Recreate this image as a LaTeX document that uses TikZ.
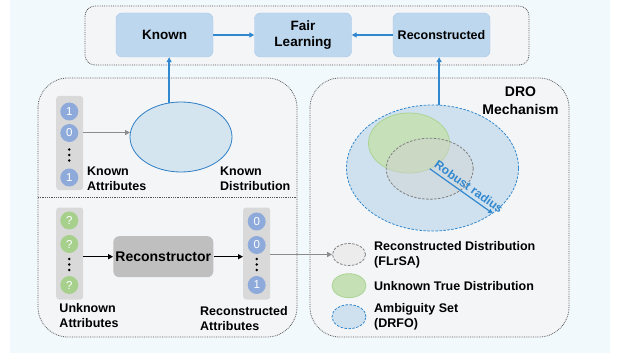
\documentclass[tikz,border=0pt]{standalone}
\usepackage{fontspec}
\setmainfont{Liberation Sans}
\usetikzlibrary{shapes.geometric,arrows.meta}
\definecolor{pagebg}{HTML}{F2F9FD}
\definecolor{panelfill}{HTML}{F4F5F7}
\definecolor{panelline}{HTML}{555555}
\definecolor{stagefill}{HTML}{BDD7EE}
\definecolor{stageline}{HTML}{A6C8E8}
\definecolor{flowblue}{HTML}{3288CF}
\definecolor{kdfill}{HTML}{D5E5F0}
\definecolor{kdline}{HTML}{2F7EC5}
\definecolor{ambfill}{HTML}{CFE1EE}
\definecolor{greenfill}{HTML}{C6E0B5}
\definecolor{greenline}{HTML}{ABD494}
\definecolor{bitblue}{HTML}{8EAADB}
\definecolor{bitgreen}{HTML}{A8D08D}
\definecolor{colgray}{HTML}{D9D9D9}
\definecolor{recgray}{HTML}{BFBFBF}
\definecolor{arrowgray}{HTML}{8C8C8C}
\begin{document}
\begin{tikzpicture}[x=1pt,y=-1pt]
  \tikzstyle{every node}+=[inner sep=0pt]
  \tikzstyle{panel}=[draw=panelline, densely dotted, fill=panelfill, line width=0.8pt]
  \tikzstyle{stage}=[draw=stageline, fill=stagefill, rounded corners=6pt, minimum width=97pt, minimum height=44pt, font=\bfseries\fontsize{13.5}{16.5}\selectfont, align=center]
  \tikzstyle{flow}=[draw=flowblue, line width=1.6pt, -{Triangle[length=5pt,width=5pt]}]
  \tikzstyle{push}=[draw=black, line width=1.5pt, -{Triangle[length=5pt,width=5pt]}]
  \tikzstyle{grayflow}=[draw=arrowgray, line width=1.4pt, -{Triangle[length=5pt,width=5pt]}]
  \tikzstyle{bit}=[circle, minimum size=18pt, text=white, font=\fontsize{11.5}{11.5}\selectfont]
  \tikzstyle{bitcol}=[fill=colgray, rounded corners=3pt, minimum width=27pt, minimum height=92pt]
  \tikzstyle{note}=[font=\bfseries\fontsize{12.5}{15}\selectfont, align=left, anchor=west]
  \tikzstyle{dashline}=[dash pattern=on 2.5pt off 1.5pt, line width=0.8pt]
  \useasboundingbox (0,0) rectangle (622,353);
  \fill [white] (0,0) rectangle (622,353);
  \fill [pagebg] (10,0) rectangle (610,353);
  % panels
  \draw [panel, rounded corners=10pt] (85,6) rectangle (529,65);
  \draw [panel, rounded corners=30pt] (38,78) rectangle (297,337);
  \draw [panel] (38,197) -- (297,197);
  \draw [panel, rounded corners=30pt] (310,78) rectangle (569,337);
  % top row
  \node [stage] (known) at (164.5,35) {Known};
  \node [stage] (fair) at (303,35) {Fair\\Learning};
  \node [stage, font=\bfseries\fontsize{12.5}{15}\selectfont] (rec) at (441.5,35) {Reconstructed};
  \draw [flow] (known) -- (fair);
  \draw [flow] (rec) -- (fair);
  % known part
  \node [ellipse, draw=kdline, fill=kdfill, line width=0.8pt, minimum width=102pt, minimum height=70pt] (kdist) at (181,137) {};
  \node [bitcol, minimum height=94pt] (kcol) at (69.7,143) {};
  \node [bit, fill=bitblue] (k1) at (69.3,111.5) {1};
  \node [bit, fill=bitblue] (k2) at (69.3,133) {0};
  \node [bit, fill=bitblue] (k3) at (69.3,177.5) {1};
  \foreach \y in {149.5,155,160.5}
    \fill (69.3,\y) circle (1.4);
  \draw [grayflow] (kcol.east |- kdist.175) -- (kdist.175);
  \draw [flow] (kdist.109) -- (kdist.109 |- known.south);
  \node [note] (kattr) at (87,178.5) {Known\\Attributes};
  \node [note] (kdlbl) at (220,178.5) {Known\\Distribution};
  % reconstruction part
  \node [bitcol] (ucol) at (69.7,253.5) {};
  \node [bit, fill=bitgreen] (u1) at (69.3,220.5) {?};
  \node [bit, fill=bitgreen] (u2) at (69.3,244) {?};
  \node [bit, fill=bitgreen] (u3) at (69.3,285) {?};
  \foreach \y in {259,264.5,270}
    \fill (69.3,\y) circle (1.4);
  \node [fill=recgray, rounded corners=6pt, minimum width=100pt, minimum height=41pt, font=\bfseries\fontsize{14}{14}\selectfont] (recon) at (163.3,256.7) {Reconstructor};
  \node [bitcol] (rcol) at (256.7,253.5) {};
  \node [bit, fill=bitblue] (r1) at (256.7,221.5) {0};
  \node [bit, fill=bitblue] (r2) at (256.7,245) {0};
  \node [bit, fill=bitblue] (r3) at (256.7,285) {1};
  \foreach \y in {259,264.5,270}
    \fill (256.7,\y) circle (1.4);
  \draw [push] (ucol.east |- recon) -- (recon.west);
  \draw [push] (recon.east) -- (recon -| rcol.west);
  \node [note] (uattr) at (59.3,315.5) {Unknown\\Attributes};
  \node [note] (rattr) at (200,319) {Reconstructed\\Attributes};
  % DRO part
  \node [font=\bfseries\fontsize{14}{17.5}\selectfont, align=center] (drolbl) at (520.5,100.5) {DRO\\Mechanism};
  \node [ellipse, draw=flowblue, fill=ambfill, dashline, minimum width=172pt, minimum height=126pt] (amb) at (432.5,168) {};
  \node [ellipse, draw=greenline, fill=greenfill, fill opacity=0.9, line width=0.8pt, minimum width=81pt, minimum height=60pt] (true) at (409,143) {};
  \node [ellipse, draw=gray, fill=gray!35, fill opacity=0.45, dashline, minimum width=87pt, minimum height=61pt] (gdist) at (429.7,168.7) {};
  \draw [draw=flowblue, line width=1.2pt, -{Triangle[length=4.5pt,width=4.5pt]}] (gdist.center) -- (amb.-37)
    node [sloped, above=3pt, pos=0.55, text=flowblue, font=\bfseries\fontsize{12}{12}\selectfont] (radius) {Robust radius};
  \draw [flow] (amb.84) -- (amb.84 |- rec.south);
  % legend
  \node [ellipse, draw=gray, fill=gray!15, dashline, minimum width=33pt, minimum height=22pt] (lrec) at (349,254.5) {};
  \node [ellipse, draw=greenline, fill=greenfill, line width=0.8pt, minimum width=34pt, minimum height=24pt] (ltrue) at (349,285.7) {};
  \node [ellipse, draw=flowblue, fill=ambfill, dashline, minimum width=34pt, minimum height=24pt] (lamb) at (349,316.7) {};
  \draw [grayflow] (rcol.east |- lrec) -- (lrec.west);
  \node [note] (lrectxt) at (374,255) {Reconstructed Distribution\\(FLrSA)};
  \node [note] (ltruetxt) at (374,285.7) {Unknown True Distribution};
  \node [note] (lambtxt) at (374,317) {Ambiguity Set\\(DRFO)};
\end{tikzpicture}
\end{document}
